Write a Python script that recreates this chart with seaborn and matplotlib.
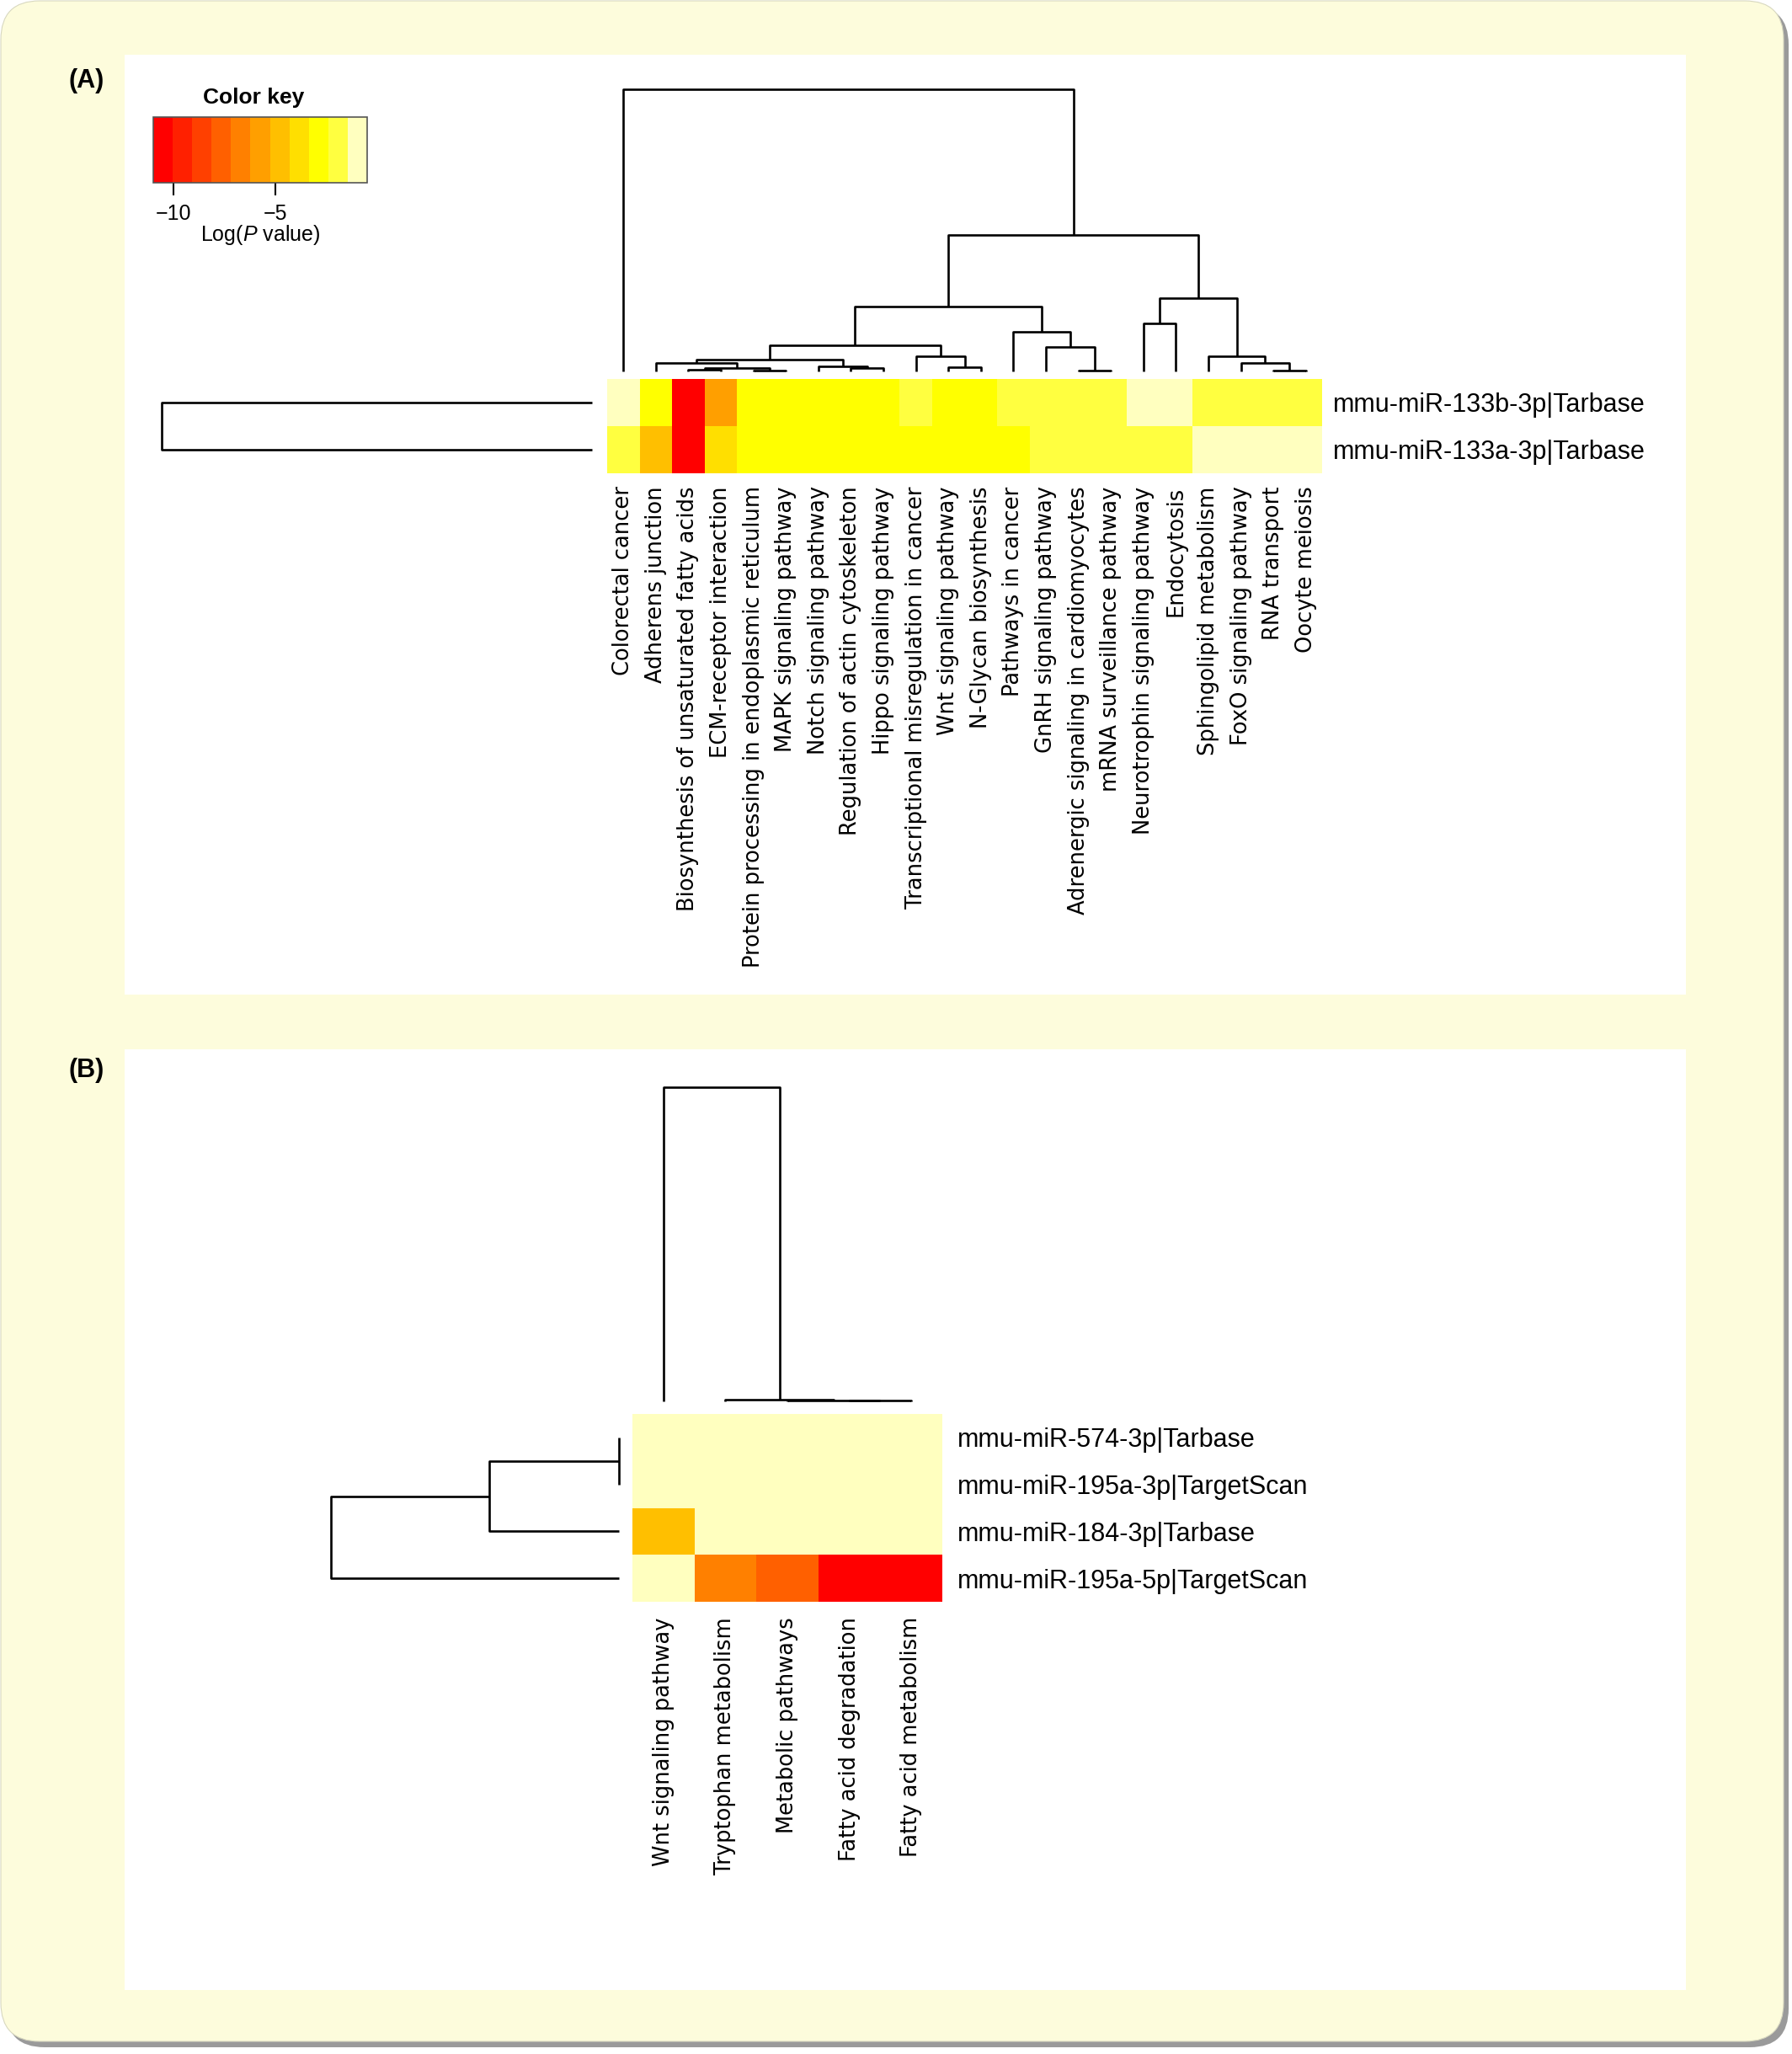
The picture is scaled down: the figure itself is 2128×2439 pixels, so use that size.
import numpy as np
import pandas as pd
import matplotlib
matplotlib.use("Agg")
import matplotlib.pyplot as plt
import seaborn as sns
from matplotlib.colors import ListedColormap
from matplotlib.patches import FancyBboxPatch, Rectangle

# ---------------- data ----------------
pathways_a = ["Colorectal cancer", "Adherens junction",
              "Biosynthesis of unsaturated fatty acids", "ECM-receptor interaction",
              "Protein processing in endoplasmic reticulum", "MAPK signaling pathway",
              "Notch signaling pathway", "Regulation of actin cytoskeleton",
              "Hippo signaling pathway", "Transcriptional misregulation in cancer",
              "Wnt signaling pathway", "N-Glycan biosynthesis", "Pathways in cancer",
              "GnRH signaling pathway", "Adrenergic signaling in cardiomyocytes",
              "mRNA surveillance pathway", "Neurotrophin signaling pathway", "Endocytosis",
              "Sphingolipid metabolism", "FoxO signaling pathway", "RNA transport",
              "Oocyte meiosis"]
mirnas_a = ["mmu-miR-133b-3p|Tarbase", "mmu-miR-133a-3p|Tarbase"]
logp_133b = [-1.0, -2.9, -10.6, -5.8, -2.9, -2.9, -2.9, -2.9, -2.9, -1.9, -2.9,
             -2.9, -1.9, -1.9, -1.9, -1.9, -1.0, -1.0, -1.9, -1.9, -1.9, -1.9]
logp_133a = [-1.9, -4.8, -10.6, -3.9, -2.9, -2.9, -2.9, -2.9, -2.9, -2.9, -2.9,
             -2.9, -2.9, -1.9, -1.9, -1.9, -1.9, -1.9, -1.0, -1.0, -1.0, -1.0]
# merges: (child a, child b, height); ids >= n refer to earlier merges
col_merges_a = [(2, 3, 0.7), (4, 5, 0.2), (22, 23, 1.2), (1, 24, 3.0),
                (7, 8, 1.2), (6, 26, 1.9), (25, 27, 4.2), (10, 11, 1.5),
                (9, 29, 5.5), (28, 30, 9.2), (14, 15, 0.2), (13, 32, 8.7),
                (12, 33, 14.0), (31, 34, 23.0), (16, 17, 17.0), (20, 21, 0.2),
                (19, 37, 2.9), (18, 38, 5.5), (36, 39, 26.0), (35, 40, 48.3),
                (0, 41, 100.0)]
row_merges_a = [(0, 1, 100.0)]

pathways_b = ["Wnt signaling pathway", "Tryptophan metabolism", "Metabolic pathways",
              "Fatty acid degradation", "Fatty acid metabolism"]
mirnas_b = ["mmu-miR-574-3p|Tarbase", "mmu-miR-195a-3p|TargetScan",
            "mmu-miR-184-3p|Tarbase", "mmu-miR-195a-5p|TargetScan"]
logp_574 = [-1.0, -1.0, -1.0, -1.0, -1.0]
logp_195a_3p = [-1.0, -1.0, -1.0, -1.0, -1.0]
logp_184 = [-4.8, -1.0, -1.0, -1.0, -1.0]
logp_195a_5p = [-1.0, -6.7, -7.6, -10.6, -10.6]
col_merges_b = [(3, 4, 0.2), (2, 5, 0.4), (1, 6, 0.6), (0, 7, 100.0)]
row_merges_b = [(0, 1, 0.0), (4, 2, 45.0), (5, 3, 100.0)]

key_colors = ["#FF0000", "#FF2000", "#FF4000", "#FF6000", "#FF8000", "#FF9F00",
              "#FFBF00", "#FFDF00", "#FFFF00", "#FFFF40", "#FFFFBF"]
key_min, key_max = -11.0, -0.5
key_ticks = [-10, -5]

# ---------------- layout helpers ----------------
W, H = 2128, 2439
fig = plt.figure(figsize=(W / 100, H / 100), dpi=100)
fig.patch.set_facecolor("white")

def add_ax(x0, y0, x1, y1):
    return fig.add_axes([x0 / W, 1 - y1 / H, (x1 - x0) / W, (y1 - y0) / H])

bg = fig.add_axes([0, 0, 1, 1])
bg.set_xlim(0, W)
bg.set_ylim(H, 0)
bg.axis("off")
bg.add_patch(FancyBboxPatch((7, 7), 2117, 2424, boxstyle="round,pad=0,rounding_size=46",
                            fc="#9a9a9a", ec="none"))
bg.add_patch(FancyBboxPatch((1, 1), 2117, 2423, boxstyle="round,pad=0,rounding_size=46",
                            fc="#fdfcdc", ec="#d8d8c0", lw=0.8))
bg.add_patch(Rectangle((148, 65), 1854, 1116, fc="white", ec="none"))
bg.add_patch(Rectangle((148, 1246), 1854, 1117, fc="white", ec="none"))
bg.text(103, 96, "(A)", ha="center", va="center", fontsize=22, fontweight="bold",
        family="Liberation Sans")
bg.text(103, 1271, "(B)", ha="center", va="center", fontsize=22, fontweight="bold",
        family="Liberation Sans")
bg.text(301, 116, "Color key", ha="center", va="center", fontsize=19, fontweight="bold",
        family="Liberation Sans")

cmap = ListedColormap(key_colors)
LW = 1.9

def dendro(ax, n, merges, orient):
    pos = {i: i + 0.5 for i in range(n)}
    hgt = {i: 0.0 for i in range(n)}
    for k, (a, b, h) in enumerate(merges):
        xs = [pos[a], pos[a], pos[b], pos[b]]
        ys = [hgt[a], h, h, hgt[b]]
        if orient == "top":
            ax.plot(xs, ys, color="black", lw=LW, clip_on=False, solid_capstyle="butt")
        else:
            ax.plot(ys, xs, color="black", lw=LW, clip_on=False, solid_capstyle="butt")
        pos[n + k] = (pos[a] + pos[b]) / 2
        hgt[n + k] = h
    top = max(m[2] for m in merges)
    if orient == "top":
        ax.set_xlim(0, n)
        ax.set_ylim(0, top)
    else:
        ax.set_xlim(top, 0)
        ax.set_ylim(n, 0)
    ax.axis("off")

def style_heat(ax, xlabels, ylabels, xpad, ypad):
    ax.yaxis.tick_right()
    ax.set_xticklabels(xlabels, rotation=90, fontsize=18.5, family="DejaVu Sans")
    ax.set_yticklabels(ylabels, rotation=0, fontsize=22, family="Liberation Sans",
                       va="center_baseline")
    ax.tick_params(axis="x", length=0, pad=xpad)
    ax.tick_params(axis="y", length=0, pad=ypad, labelright=True, labelleft=False)
    ax.set_xlabel("")
    ax.set_ylabel("")

plt.rcParams["mathtext.fontset"] = "custom"
plt.rcParams["mathtext.rm"] = "Liberation Sans"
plt.rcParams["mathtext.it"] = "Liberation Sans:italic"

# ---------------- panel A ----------------
df_a = pd.DataFrame([logp_133b, logp_133a], index=mirnas_a, columns=pathways_a)
ax_ha = add_ax(721, 450, 1570, 562)
cax = add_ax(182, 139, 436, 217)
sns.heatmap(df_a, ax=ax_ha, cmap=cmap, vmin=key_min, vmax=key_max, cbar=True,
            cbar_ax=cax, cbar_kws={"orientation": "horizontal", "ticks": key_ticks},
            xticklabels=True, yticklabels=True, linewidths=0)
style_heat(ax_ha, pathways_a, mirnas_a, 11, 9)

cb = ax_ha.collections[0].colorbar
cb.outline.set_edgecolor("#555555")
cb.outline.set_linewidth(1.2)
cax.tick_params(axis="x", length=11, width=1.5, pad=7, labelsize=18, colors="black")
for t in cax.get_xticklabels():
    t.set_family("Liberation Sans")
cax.set_xlabel("Log($\\it{P}$ value)", fontsize=18, family="Liberation Sans", labelpad=-1)

ax_da = add_ax(721, 106, 1570, 441)
dendro(ax_da, len(pathways_a), col_merges_a, "top")
ax_ra = add_ax(192, 450, 703, 562)
dendro(ax_ra, len(mirnas_a), row_merges_a, "left")

# ---------------- panel B ----------------
df_b = pd.DataFrame([logp_574, logp_195a_3p, logp_184, logp_195a_5p],
                    index=mirnas_b, columns=pathways_b)
ax_hb = add_ax(751, 1679, 1119, 1902)
sns.heatmap(df_b, ax=ax_hb, cmap=cmap, vmin=key_min, vmax=key_max, cbar=False,
            xticklabels=True, yticklabels=True, linewidths=0)
style_heat(ax_hb, pathways_b, mirnas_b, 13, 13)

ax_db = add_ax(751, 1291, 1119, 1664)
dendro(ax_db, len(pathways_b), col_merges_b, "top")
ax_rb = add_ax(393, 1679, 735, 1902)
dendro(ax_rb, len(mirnas_b), row_merges_b, "left")

fig.savefig("out.png", dpi=100, facecolor="white")
